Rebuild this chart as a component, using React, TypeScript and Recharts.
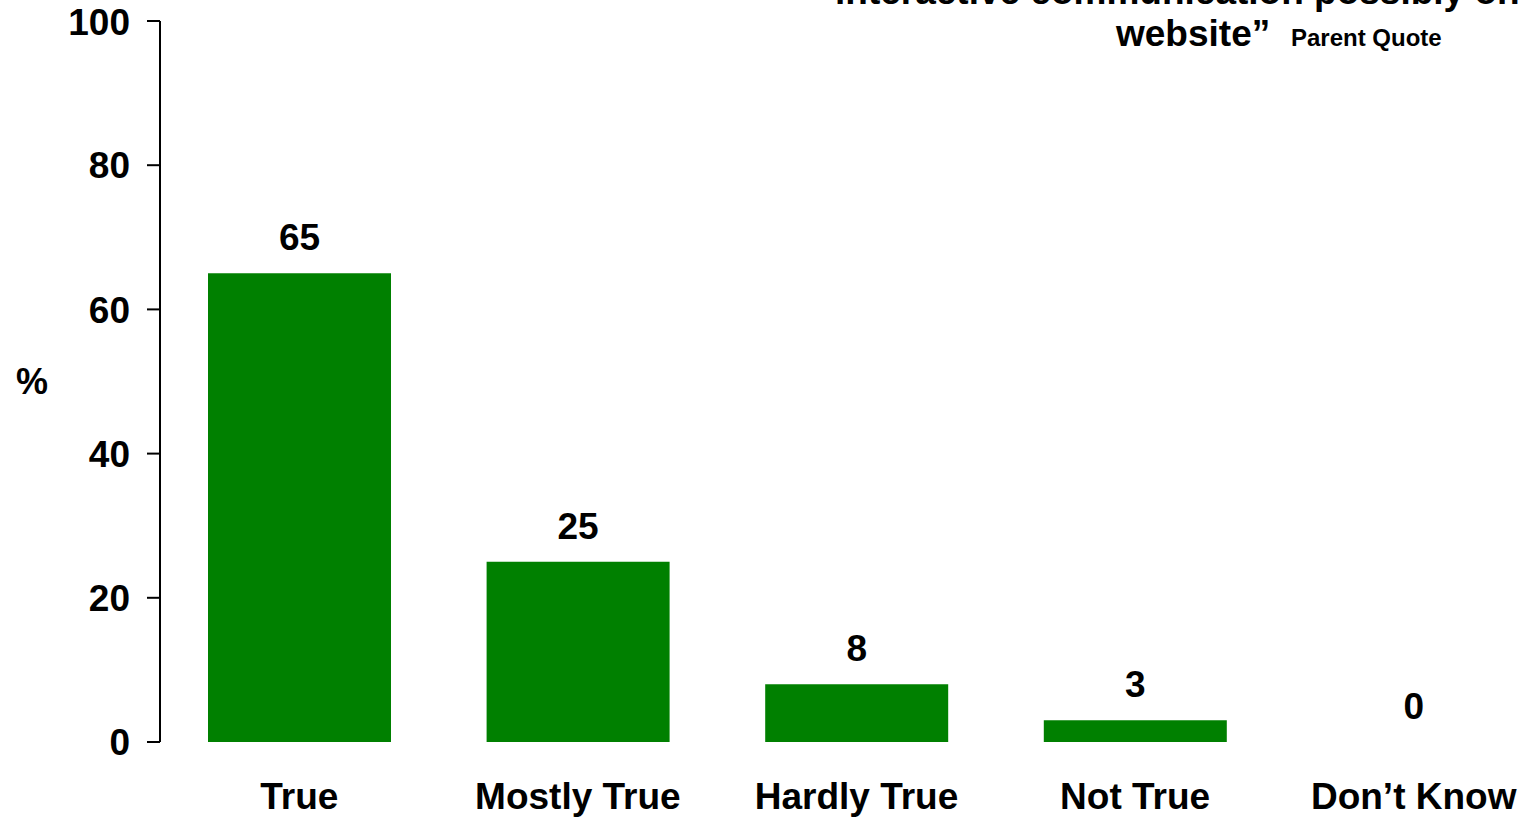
import React from 'react';
import { BarChart, Bar, XAxis, YAxis, LabelList, Cell } from 'recharts';

const categories = ['True', 'Mostly True', 'Hardly True', 'Not True', 'Don\u2019t Know'];
const percents = [65, 25, 8, 3, 0];
const yTicks = [0, 20, 40, 60, 80, 100];

const FONT = '"Liberation Sans", Arial, sans-serif';
const GREEN = '#008000';
const FS = 37;

const data = categories.map((name, i) => ({ name, value: percents[i] }));

export default function App() {
  return (
    <div
      style={{
        position: 'absolute',
        left: 0,
        top: 0,
        width: 1524,
        height: 817,
        overflow: 'hidden',
        background: '#fff',
        fontFamily: FONT,
      }}
    >
      <BarChart
        width={1553}
        height={817}
        data={data}
        margin={{ top: 21, right: 0, bottom: 0, left: 0 }}
        barSize={183}
      >
        <XAxis
          dataKey="name"
          axisLine={false}
          tickLine={false}
          tickSize={0}
          tickMargin={41}
          height={75}
          interval={0}
          tick={{ fill: '#000', fontSize: FS, fontWeight: 700, fontFamily: FONT }}
        />
        <YAxis
          domain={[0, 100]}
          ticks={yTicks}
          width={160}
          axisLine={{ stroke: '#000', strokeWidth: 2 }}
          tickLine={{ stroke: '#000', strokeWidth: 2 }}
          tickSize={13}
          tickMargin={17}
          tick={{ fill: '#000', fontSize: FS, fontWeight: 700, fontFamily: FONT }}
          label={{
            value: '%',
            position: 'insideLeft',
            offset: 16,
            fill: '#000',
            fontSize: 36,
            fontWeight: 700,
            fontFamily: FONT,
          }}
        />
        {/* a zero bar gets a hair of height so its label still shows */}
        <Bar dataKey="value" fill={GREEN} minPointSize={0.5} isAnimationActive={false}>
          {data.map((d) => (
            <Cell key={d.name} fill={d.value === 0 ? 'transparent' : GREEN} />
          ))}
          <LabelList
            dataKey="value"
            position="top"
            offset={23}
            fill="#000"
            fontSize={FS}
            fontWeight={700}
            fontFamily={FONT}
          />
        </Bar>
      </BarChart>

      {/* quote title, top line clipped by the page edge */}
      <svg
        width={1524}
        height={60}
        style={{ position: 'absolute', left: 0, top: 0, pointerEvents: 'none' }}
      >
        <text x={835} y={4} fontSize={FS} fontWeight={700} fontFamily={FONT} fill="#000">
          interactive communication possibly on
        </text>
        <text x={1116} y={46} fontSize={FS} fontWeight={700} fontFamily={FONT} fill="#000">
          website”
        </text>
        <text x={1291} y={46} fontSize={24} fontWeight={700} fontFamily={FONT} fill="#000">
          Parent Quote
        </text>
      </svg>
    </div>
  );
}
